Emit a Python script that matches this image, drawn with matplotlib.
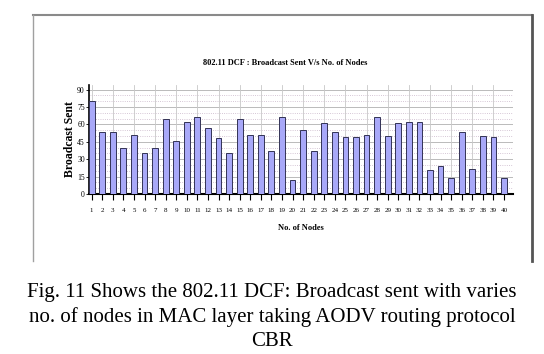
import numpy as np
import matplotlib.pyplot as plt
from matplotlib.lines import Line2D

nodes = list(range(1, 41))
sent = [80, 53.5, 53.5, 40, 51, 35, 40, 65, 45.5, 62,
        66, 57, 48, 35, 65, 51, 51, 37, 66, 12,
        55, 37, 61.5, 53.5, 49, 49, 51, 66, 50, 61.5,
        62, 62, 21, 24.5, 14, 53.5, 21.5, 50, 49, 14]
yticks = [0, 15, 30, 45, 60, 75, 90]

W, H = 544, 354
fig = plt.figure(figsize=(W / 100, H / 100), dpi=100)

# outer frame of the chart image
def fx(x): return x / W
def fy(y): return 1 - y / H
fig.add_artist(Line2D([fx(33), fx(532)], [fy(15), fy(15)], color='#8a8a8a', lw=1.5))
fig.add_artist(Line2D([fx(33), fx(33)], [fy(15), fy(261)], color='#a0a0a0', lw=1.0))
fig.add_artist(Line2D([fx(532), fx(532)], [fy(15), fy(261)], color='#555555', lw=2.0))

ax = fig.add_axes([fx(89), fy(194), fx(513) - fx(89), fy(85) - fy(194)])
ax.bar(nodes, sent, width=0.55, color='#a8a8f8', edgecolor='#333355', linewidth=0.7, zorder=3)
ax.set_xlim(0.75, 40.85)
ax.set_ylim(0, 94)

for y in np.arange(5, 95, 5):
    ax.axhline(y, color='#c8b4c8' if y % 15 else '#b0b0b0', lw=0.6, ls='-' if y % 15 == 0 else ':', zorder=1)
for x in range(1, 41, 2):
    ax.axvline(x, color='#c8c8c8', lw=0.6, zorder=1)

ax.set_xticks(nodes)
ax.set_xticklabels([str(n) for n in nodes], fontsize=5, family='Liberation Serif')
ax.set_yticks(yticks)
ax.set_yticklabels([str(v) for v in yticks], fontsize=5.5, family='Liberation Serif')
ax.tick_params(axis='x', length=4, width=0.8, pad=6)
ax.tick_params(axis='y', length=2, width=0.6, pad=1)

for s in ['top', 'right']:
    ax.spines[s].set_visible(False)
ax.spines['left'].set_linewidth(1.2)
ax.spines['bottom'].set_linewidth(1.5)

ax.set_ylabel('Broadcast Sent', fontsize=8.5, fontweight='bold', family='Liberation Serif', labelpad=1)
ax.set_xlabel('No. of Nodes', fontsize=6, fontweight='bold', family='Liberation Serif', labelpad=8)

fig.text(fx(285), fy(63), '802.11 DCF : Broadcast Sent V/s No. of Nodes', fontsize=6, fontweight='bold',
         family='Liberation Serif', ha='center', va='center')

caption = ['Fig. 11 Shows the 802.11 DCF: Broadcast sent with varies',
           'no. of nodes in MAC layer taking AODV routing protocol',
           'CBR']
for i, line in enumerate(caption):
    fig.text(0.5, fy(293 + 24 * i), line, fontsize=15, family='Liberation Serif',
             ha='center', va='center')

fig.savefig('out.png', dpi=100)
